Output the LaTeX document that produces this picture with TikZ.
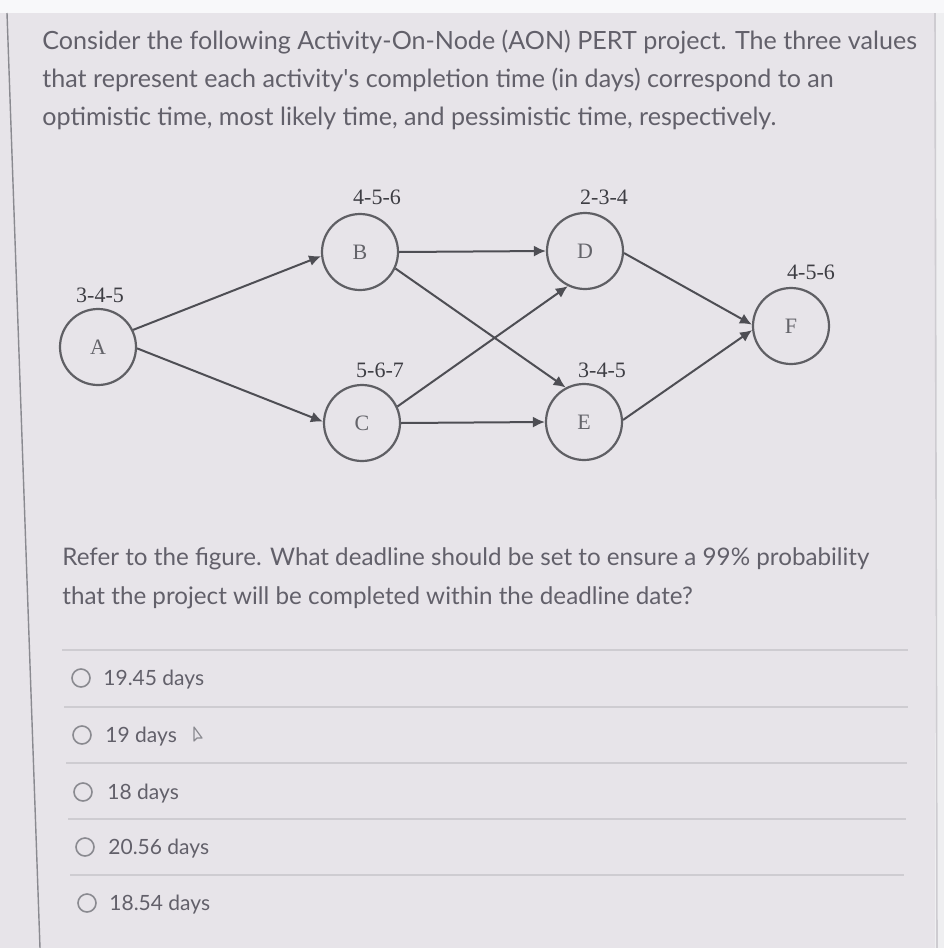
\documentclass[tikz,border=0pt]{standalone}
\usepackage{fontspec}
\setmainfont{Lato}
\newfontfamily\serifdiag{Liberation Serif}
\usetikzlibrary{arrows.meta}
\definecolor{paper}{RGB}{231,228,233}
\definecolor{topstrip}{RGB}{248,248,250}
\definecolor{margin}{RGB}{239,239,241}
\definecolor{ink}{RGB}{98,96,106}
\definecolor{rim}{RGB}{95,95,100}
\definecolor{wire}{RGB}{78,78,84}
\definecolor{letter}{RGB}{100,100,106}
\definecolor{labelink}{RGB}{62,62,68}
\definecolor{rule}{RGB}{206,204,209}
\definecolor{radiogray}{RGB}{138,138,144}
\tikzstyle{act} = [circle,draw=rim,line width=1.1pt,fill=paper,minimum size=38pt,inner sep=0pt,text=letter,font=\serifdiag\fontsize{11}{13}\selectfont]
\tikzstyle{est} = [inner sep=0pt,text=labelink,font=\serifdiag\fontsize{11}{13}\selectfont]
\tikzstyle{dep} = [draw=wire,line width=1pt,-{Latex[length=6pt,width=5.5pt]}]
\tikzstyle{line} = [anchor=base west,inner sep=0pt,text=ink,font=\fontsize{12.55}{15}\selectfont]
\tikzstyle{ask} = [anchor=base west,inner sep=0pt,text=ink,font=\fontsize{12.1}{14}\selectfont]
\tikzstyle{radio} = [circle,draw=radiogray,line width=0.8pt,minimum size=9pt,inner sep=0pt]
\tikzstyle{answer} = [anchor=base west,inner sep=0pt,text=ink,font=\fontsize{10.5}{13}\selectfont]

\begin{document}
\begin{tikzpicture}[x=0.5pt,y=-0.5pt]
		% page
		\fill[paper] (0,0) rectangle (944,948);
		\useasboundingbox (0,0) rectangle (944,948);
		\fill[topstrip] (0,0) rectangle (944,13);
		\fill[margin] (935,13) rectangle (944,948);
		\draw[radiogray,line width=0.7pt] (7,13) -- (40,948);
		\draw[rule,line width=0.8pt] (935,13) -- (937,948);

		% question
		\node[line] (q1) at (42,49) {Consider the following Activity-On-Node (AON) PERT project. The three values};
		\node[line] (q2) at (42,87) {that represent each activity\textquotesingle s completion time (in days) correspond to an};
		\node[line] (q3) at (42,125) {optimistic time, most likely time, and pessimistic time, respectively.};

		% network
		\node[act] (a) at (98,347) {A};
		\node[act] (b) at (360,252) {B};
		\node[act] (c) at (362,423) {C};
		\node[act] (d) at (585,251) {D};
		\node[act] (e) at (584,422) {E};
		\node[act] (f) at (791,326) {F};

		\node[est] (ta) at (100,295) {3-4-5};
		\node[est] (tb) at (377,197) {4-5-6};
		\node[est] (tc) at (380,370) {5-6-7};
		\node[est] (td) at (604,197) {2-3-4};
		\node[est] (te) at (602,370) {3-4-5};
		\node[est] (tf) at (811,272) {4-5-6};

		\draw[dep] (a.26) -- (b.186);
		\draw[dep] (a.-2) -- (c.178);
		\draw[dep] (b.east) -- (d.west);
		\draw[dep] (b.-25) -- (e.118);
		\draw[dep] (c.25) -- (d.244);
		\draw[dep] (c.east) -- (e.west);
		\draw[dep] (d.-3) -- (f.178);
		\draw[dep] (e.3) -- (f.186);

		\node[ask] (r1) at (62,565) {Refer to the figure. What deadline should be set to ensure a 99\% probability};
		\node[ask] (r2) at (62,604) {that the project will be completed within the deadline date?};

		% answers
		\draw[rule,line width=0.8pt] (62,650) -- (908,650);
		\draw[rule,line width=0.8pt] (64,707) -- (908,707);
		\draw[rule,line width=0.8pt] (66,763) -- (907,763);
		\draw[rule,line width=0.8pt] (68,819) -- (906,819);
		\draw[rule,line width=0.8pt] (70,875) -- (904,875);

		\node[radio] (o1) at (81,678) {};
		\node[answer] (t1) at (103,685) {19.45 days};
		\node[radio] (o2) at (82,735) {};
		\node[answer] (t2) at (105,742) {19 days};
		\node[radio] (o3) at (83,792) {};
		\node[answer] (t3) at (107,799) {18 days};
		\node[radio] (o4) at (85,847) {};
		\node[answer] (t4) at (108,854) {20.56 days};
		\node[radio] (o5) at (87,903) {};
		\node[answer] (t5) at (109,910) {18.54 days};

		% pointer
		\draw[radiogray,line width=0.6pt,line join=round] (194,727) -- (194,741) -- (197,738) -- (202,738) -- cycle;
\end{tikzpicture}
\end{document}
